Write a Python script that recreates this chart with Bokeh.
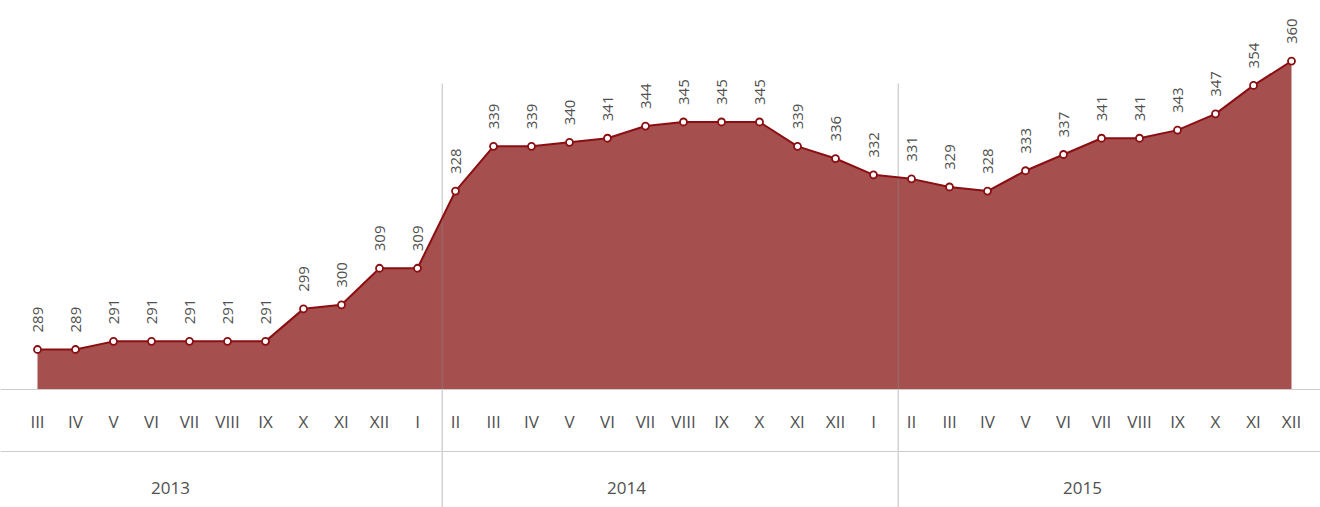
from bokeh.plotting import figure
from bokeh.models import ColumnDataSource, Span
from bokeh.core.properties import value
from bokeh.embed import file_html
from bokeh.resources import INLINE

months = ["III", "IV", "V", "VI", "VII", "VIII", "IX", "X", "XI", "XII", "I",
          "II", "III", "IV", "V", "VI", "VII", "VIII", "IX", "X", "XI", "XII", "I",
          "II", "III", "IV", "V", "VI", "VII", "VIII", "IX", "X", "XI", "XII"]
values = [289, 289, 291, 291, 291, 291, 291, 299, 300, 309, 309,
          328, 339, 339, 340, 341, 344, 345, 345, 345, 339, 336, 332,
          331, 329, 328, 333, 337, 341, 341, 343, 347, 354, 360]
years = ["2013", "2014", "2015"]
year_center_idx = [3.5, 15.5, 27.5]   # between VI and VII of each year
year_breaks = [10.65, 22.65]          # between I and II

FONT = "Open Sans"
TXT = "#505050"
BASE = 279.16
Y0, Y1 = 250.11, 374.9

x = list(range(len(values)))
src = ColumnDataSource(dict(x=x, y=values, lbl=[str(v) for v in values], m=months,
                            base=[BASE] * len(values)))

p = figure(width=1320, height=507, output_backend="svg", toolbar_location=None,
           x_range=(-0.9737, 33.763), y_range=(Y0, Y1),
           min_border=0, outline_line_color=None)
p.axis.visible = False
p.grid.visible = False
p.background_fill_color = "white"
p.border_fill_color = "white"

p.varea(x="x", y1="base", y2="y", source=src, fill_color="#A54F4F")

# horizontal rules
p.add_layout(Span(location=BASE, dimension="width", line_color="#cccccc", line_width=1))
p.add_layout(Span(location=263.9, dimension="width", line_color="#cccccc", line_width=1))

# year separators
for b in year_breaks:
    p.segment(x0=[b], y0=[Y0], x1=[b], y1=[354.47], line_color="#888888",
              line_alpha=0.55, line_width=1)

p.line(x="x", y="y", source=src, line_color="#8B0F12", line_width=2)
p.scatter(x="x", y="y", source=src, size=7, fill_color="white",
          line_color="#8B0F12", line_width=1.8)

# value labels rotated
p.text(x="x", y="y", text="lbl", source=src, angle=1.5708, y_offset=-17,
       text_align="left", text_baseline="middle", text_color=TXT,
       text_font=value(FONT), text_font_size="15px")

# month labels
p.text(x="x", y="base", text="m", source=src, y_offset=32,
       text_align="center", text_baseline="middle", text_color=TXT,
       text_font=value(FONT), text_font_size="17px")

# year labels
p.text(x=year_center_idx, y=[BASE] * 3, text=years, y_offset=99,
       text_align="center", text_baseline="middle", text_color=TXT,
       text_font=value(FONT), text_font_size="17px")

open("out.html", "w").write(file_html(p, INLINE))
